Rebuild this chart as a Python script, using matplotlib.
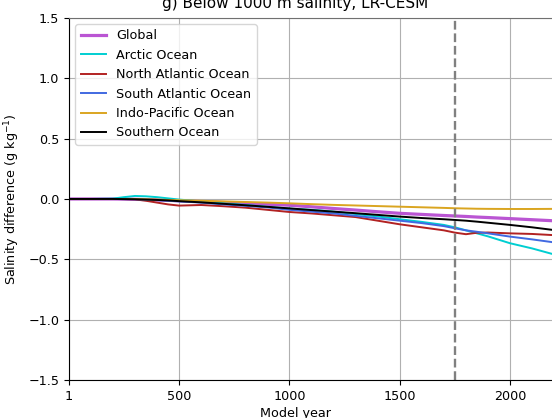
import numpy as np
import matplotlib
matplotlib.use('Agg')
import matplotlib.pyplot as plt

# Model years shared by all regions
years = [1, 100, 200, 250, 300, 350, 400, 450, 500, 600, 700, 800, 900, 1000,
         1100, 1200, 1300, 1400, 1500, 1600, 1700, 1750, 1800, 1850, 1900,
         2000, 2100, 2200]

# Salinity difference (g/kg)
global_sal = [0, 0, 0, -0.001, -0.003, -0.005, -0.008, -0.011, -0.015, -0.022,
              -0.029, -0.036, -0.044, -0.052, -0.065, -0.079, -0.092, -0.106,
              -0.119, -0.128, -0.137, -0.141, -0.145, -0.150, -0.154, -0.163,
              -0.172, -0.181]
arctic = [0, 0, 0.003, 0.015, 0.025, 0.022, 0.015, 0.005, -0.005, -0.02,
          -0.035, -0.05, -0.065, -0.08, -0.09, -0.105, -0.125, -0.145, -0.168,
          -0.19, -0.215, -0.235, -0.26, -0.285, -0.31, -0.367, -0.41, -0.46]
north_atlantic = [0, 0, 0, -0.001, -0.003, -0.015, -0.03, -0.045, -0.055,
                  -0.05, -0.06, -0.072, -0.09, -0.108, -0.12, -0.135, -0.15,
                  -0.18, -0.21, -0.235, -0.26, -0.279, -0.292, -0.28, -0.278,
                  -0.285, -0.29, -0.30]
south_atlantic = [0, 0, 0, -0.001, -0.002, -0.005, -0.01, -0.015, -0.02, -0.03,
                  -0.045, -0.057, -0.07, -0.09, -0.105, -0.12, -0.14, -0.16,
                  -0.18, -0.2, -0.225, -0.243, -0.26, -0.272, -0.285, -0.312,
                  -0.335, -0.36]
indo_pacific = [0, 0, 0, 0, 0, -0.002, -0.005, -0.008, -0.01, -0.015, -0.02,
                -0.025, -0.03, -0.036, -0.043, -0.049, -0.054, -0.059, -0.064,
                -0.069, -0.074, -0.077, -0.079, -0.081, -0.082, -0.083, -0.083,
                -0.082]
southern = [0, 0, 0, -0.001, -0.002, -0.005, -0.008, -0.012, -0.018, -0.028,
            -0.04, -0.052, -0.065, -0.078, -0.092, -0.105, -0.118, -0.132,
            -0.146, -0.158, -0.168, -0.174, -0.18, -0.188, -0.197, -0.215,
            -0.235, -0.258]

xticks = [1, 500, 1000, 1500, 2000]
yticks = [-1.5, -1.0, -0.5, 0.0, 0.5, 1.0, 1.5]
spinup_end = 1750

plt.rcParams['font.size'] = 9.2

fig = plt.figure(figsize=(5.52, 4.18), dpi=100)
ax = fig.add_axes([0.125, 0.091, 0.875, 0.866])

ax.grid(True, color='#b0b0b0', lw=0.8)
ax.set_axisbelow(True)

ax.plot(years, global_sal, color='mediumorchid', lw=2.3, label='Global')
ax.plot(years, arctic, color='darkturquoise', lw=1.4, label='Arctic Ocean')
ax.plot(years, north_atlantic, color='firebrick', lw=1.4, label='North Atlantic Ocean')
ax.plot(years, south_atlantic, color='royalblue', lw=1.4, label='South Atlantic Ocean')
ax.plot(years, indo_pacific, color='goldenrod', lw=1.4, label='Indo-Pacific Ocean')
ax.plot(years, southern, color='black', lw=1.4, label='Southern Ocean')
ax.axvline(spinup_end, color='gray', ls='--', lw=1.7)

ax.set_xlim(1, 2190)
ax.set_ylim(-1.5, 1.5)
ax.set_xticks(xticks)
ax.set_yticks(yticks)
ax.spines['top'].set_color('#707070')
ax.spines['right'].set_visible(False)

ax.set_title('g) Below 1000 m salinity, LR-CESM', fontsize=11, x=0.468, pad=7)
ax.set_xlabel('Model year')
ax.xaxis.set_label_coords(0.468, -0.075)
ax.set_ylabel('Salinity difference (g kg$^{-1}$)')
ax.yaxis.set_label_coords(-0.097, 0.5)
ax.legend(loc='upper left')

fig.savefig('out.png', dpi=100)
